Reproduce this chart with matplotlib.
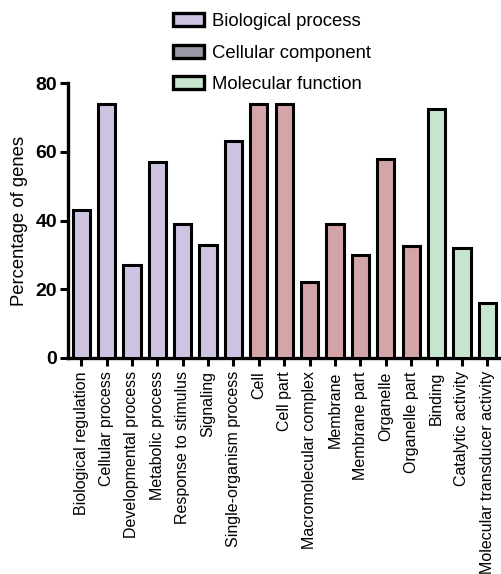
import matplotlib.pyplot as plt
from matplotlib.patches import Patch

plt.rcParams['font.family'] = ['Liberation Sans', 'DejaVu Sans']

categories = ["Biological regulation", "Cellular process", "Developmental process",
              "Metabolic process", "Response to stimulus", "Signaling",
              "Single-organism process", "Cell", "Cell part", "Macromolecular complex",
              "Membrane", "Membrane part", "Organelle", "Organelle part",
              "Binding", "Catalytic activity", "Molecular transducer activity"]
values = [43, 74, 27, 57, 39, 33, 63, 74, 74, 22, 39, 30, 58, 32.5, 72.5, 32, 16]
groups = ["BP"] * 7 + ["CC"] * 7 + ["MF"] * 3

group_colors = {"BP": "#cec3e1", "CC": "#d4a5a8", "MF": "#c8e6cf"}
legend_names = ["Biological process", "Cellular component", "Molecular function"]
legend_colors = ["#cec3e1", "#9a98a6", "#c8e6cf"]

fig = plt.figure(figsize=(5.02, 5.74), dpi=100)
ax = fig.add_axes([68 / 502, 1 - 358 / 574, 1 - 68 / 502, (358 - 83) / 574])

x = list(range(len(categories)))
ax.bar(x, values, width=0.68, color=[group_colors[g] for g in groups],
       edgecolor="black", linewidth=2.2, zorder=3)

ax.set_xlim(-0.52, 16.58)
ax.set_ylim(0, 80)
ax.set_yticks([0, 20, 40, 60, 80])
ax.set_yticklabels(["0", "20", "40", "60", "80"], fontsize=14, fontweight="bold")
ax.set_xticks(x)
ax.set_xticklabels(categories, rotation=90, fontsize=11.5)
ax.tick_params(axis="both", direction="out", length=6, width=2.2)
ax.tick_params(axis="y", pad=2)
ax.set_ylabel("Percentage of genes", fontsize=13.3, labelpad=5)

for side in ["top", "right"]:
    ax.spines[side].set_visible(False)
for side in ["left", "bottom"]:
    ax.spines[side].set_linewidth(2.4)

handles = [Patch(facecolor=c, edgecolor="black", linewidth=2.4) for c in legend_colors]
fig.legend(handles, legend_names, loc="upper left", bbox_to_anchor=(166 / 502, 1 - 6 / 574),
           frameon=False, fontsize=13.3, handlelength=1.65, handleheight=0.7,
           labelspacing=0.78, handletextpad=0.45, borderaxespad=0)

fig.savefig("out.png", dpi=100)
